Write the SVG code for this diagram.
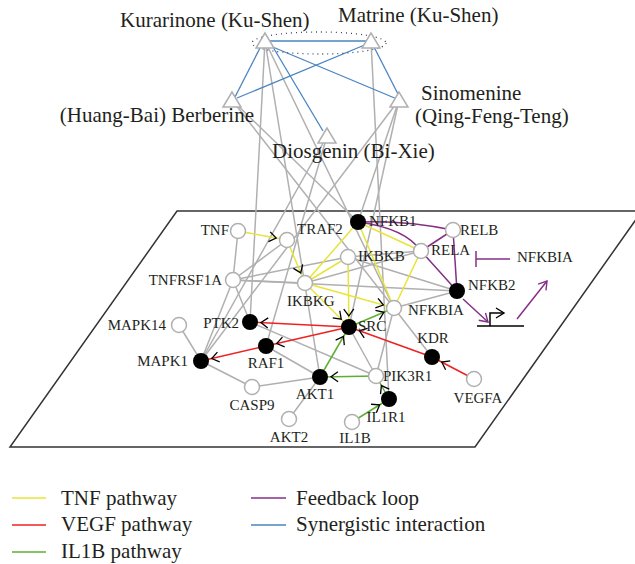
<svg xmlns="http://www.w3.org/2000/svg" width="635" height="564" viewBox="0 0 635 564">
<style>
.g{stroke:#b0b0b0;stroke-width:1.5;fill:none}
.y{stroke:#e8e43a;stroke-width:1.5;fill:none}
.r{stroke:#ee2222;stroke-width:1.5;fill:none}
.gr{stroke:#5cb030;stroke-width:1.5;fill:none}
.p{stroke:#862f86;stroke-width:1.5;fill:none}
.b{stroke:#4a84c4;stroke-width:1.3;fill:none}
.o{fill:#fff;stroke:#b0b0b0;stroke-width:1.5}
.k{fill:#000}
.t{fill:#fff;stroke:#b0b0b0;stroke-width:1.5}
text{font-family:"Liberation Serif",serif;fill:#231f20}
.gl{font-size:15px}
.hl{font-size:21px}
.ar{marker-end:url(#ar)}
</style>
<defs>
<marker id="ar" viewBox="0 0 24 12" markerWidth="24" markerHeight="12" refX="19" refY="6" orient="auto" markerUnits="userSpaceOnUse">
<path d="M1,1 L8,6 L1,11" fill="none" stroke="#000" stroke-width="1.3"/>
</marker>
<marker id="arp" viewBox="0 0 12 12" markerWidth="12" markerHeight="12" refX="9" refY="6" orient="auto" markerUnits="userSpaceOnUse">
<path d="M1,1 L9,6 L1,11" fill="none" stroke="#862f86" stroke-width="1.4"/>
</marker>
<marker id="arb" viewBox="0 0 12 12" markerWidth="12" markerHeight="12" refX="9" refY="6" orient="auto" markerUnits="userSpaceOnUse">
<path d="M1,1 L9,6 L1,11" fill="none" stroke="#000" stroke-width="1.4"/>
</marker>
</defs>
<rect width="635" height="564" fill="#fff"/>
<polygon id="plane" points="177,211 642,211 475,447 10,447" fill="none" stroke="#333" stroke-width="1.5"/>
<g id="connectors">
<!-- herb to gene -->
<line class="g" x1="265" y1="41" x2="250" y2="322"/>
<line class="g" x1="265" y1="41" x2="320" y2="377"/>
<line class="g" x1="265" y1="41" x2="394" y2="308"/>
<line class="g" x1="371" y1="41" x2="389" y2="399"/>
<line class="g" x1="232" y1="100" x2="358" y2="222"/>
<line class="g" x1="232" y1="100" x2="394" y2="308"/>
<line class="g" x1="399" y1="100" x2="358" y2="222"/>
<line class="g" x1="399" y1="100" x2="349" y2="327"/>
<line class="g" x1="399" y1="100" x2="201" y2="361"/>
<line class="g" x1="327" y1="136" x2="201" y2="361"/>
<line class="g" x1="327" y1="136" x2="266" y2="346"/>
<!-- gene to gene grey -->
<line class="g" x1="238" y1="231" x2="233" y2="280"/>
<line class="g" x1="233" y1="280" x2="287" y2="240"/>
<line class="g" x1="233" y1="280" x2="305" y2="283"/>
<line class="g" x1="233" y1="280" x2="348" y2="257"/>
<line class="g" x1="233" y1="280" x2="457" y2="291"/>
<line class="g" x1="233" y1="280" x2="250" y2="322"/>
<line class="g" x1="233" y1="280" x2="201" y2="361"/>
<line class="g" x1="305" y1="283" x2="421" y2="251"/>
<line class="g" x1="348" y1="257" x2="457" y2="291"/>
<line class="g" x1="348" y1="257" x2="421" y2="251"/>
<line class="g" x1="394" y1="308" x2="457" y2="291"/>
<line class="g" x1="394" y1="308" x2="432" y2="357"/>
<line class="g" x1="394" y1="308" x2="376" y2="376"/>
<line class="g" x1="349" y1="327" x2="376" y2="376"/>
<line class="g" x1="250" y1="322" x2="376" y2="376"/>
<line class="g" x1="266" y1="346" x2="320" y2="377"/>
<line class="g" x1="179" y1="325" x2="201" y2="361"/>
<line class="g" x1="201" y1="361" x2="252" y2="387"/>
<line class="g" x1="252" y1="387" x2="320" y2="377"/>
<line class="g" x1="320" y1="377" x2="289" y2="419"/>
<!-- synergistic -->
<line class="b" x1="270" y1="41" x2="367" y2="41"/>
<line class="b" x1="261" y1="46" x2="235" y2="97"/>
<line class="b" x1="367" y1="44" x2="237" y2="98"/>
<line class="b" x1="268" y1="45" x2="397" y2="99"/>
<line class="b" x1="373" y1="45" x2="398" y2="94"/>
<line class="b" x1="270" y1="42" x2="323" y2="131"/>
<!-- TNF pathway -->
<line class="y ar" x1="238" y1="231" x2="287" y2="240"/>
<line class="y ar" x1="287" y1="240" x2="305" y2="283"/>
<line class="y" x1="305" y1="283" x2="358" y2="222"/>
<line class="y" x1="305" y1="283" x2="348" y2="257"/>
<line class="y ar" x1="305" y1="283" x2="349" y2="327"/>
<line class="y ar" x1="348" y1="257" x2="349" y2="327"/>
<line class="y ar" x1="305" y1="283" x2="394" y2="308"/>
<line class="y" x1="358" y1="222" x2="394" y2="308"/>
<line class="y" x1="358" y1="222" x2="421" y2="251"/>
<line class="y" x1="421" y1="251" x2="394" y2="308"/>
<!-- feedback loop -->
<path class="p" d="M358,222 Q405,220 453,230"/>
<path class="p" d="M358,222 Q405,228 421,251 L457,291"/>
<line class="p" x1="421" y1="251" x2="453" y2="230"/>
<line class="p" x1="453" y1="230" x2="457" y2="291"/>
<!-- VEGF pathway -->
<line class="r ar" x1="474" y1="379" x2="432" y2="357"/>
<line class="r ar" x1="432" y1="357" x2="349" y2="327"/>
<line class="r ar" x1="349" y1="327" x2="250" y2="322"/>
<line class="r ar" x1="349" y1="327" x2="266" y2="346"/>
<line class="r ar" x1="266" y1="346" x2="201" y2="361"/>
<!-- IL1B pathway -->
<line class="gr ar" x1="352" y1="422" x2="389" y2="399"/>
<line class="gr ar" x1="389" y1="399" x2="376" y2="376"/>
<line class="gr ar" x1="376" y1="376" x2="320" y2="377"/>
<line class="gr ar" x1="320" y1="377" x2="349" y2="327"/>
<line class="gr ar" x1="349" y1="327" x2="394" y2="308"/>
<!-- inset feedback -->
<line class="p" x1="463" y1="299" x2="488" y2="322" marker-end="url(#arp)"/>
<line class="p" x1="517" y1="319" x2="547" y2="281" marker-end="url(#arp)"/>
<line class="p" x1="476" y1="259" x2="510" y2="259"/>
<line class="p" x1="476" y1="251" x2="476" y2="267"/>
<line x1="477" y1="326" x2="524" y2="326" stroke="#000" stroke-width="1.5"/>
<path d="M490,326 L490,313 L504,313" fill="none" stroke="#000" stroke-width="1.5" marker-end="url(#arb)"/>
</g>
<ellipse cx="319" cy="43" rx="67" ry="11" fill="none" stroke="#3a4560" stroke-width="1.3" stroke-dasharray="1 4"/>
<g id="Kurarinone"><polygon class="t" points="265,33 256,48 274,48"/><text class="hl" x="120" y="27">Kurarinone (Ku-Shen)</text></g>
<g id="Matrine"><polygon class="t" points="371,33 362,48 380,48"/><text class="hl" x="338" y="22">Matrine (Ku-Shen)</text></g>
<g id="Berberine"><polygon class="t" points="232,92 223,107 241,107"/><text class="hl" x="254" y="122" text-anchor="end">(Huang-Bai) Berberine</text></g>
<g id="Sinomenine"><polygon class="t" points="399,92 390,107 408,107"/><text class="hl" x="421" y="100">Sinomenine</text><text class="hl" x="415" y="123">(Qing-Feng-Teng)</text></g>
<g id="Diosgenin"><polygon class="t" points="327,128 318,143 336,143"/><text class="hl" x="272" y="158">Diosgenin (Bi-Xie)</text></g>
<g id="TNF"><circle class="o" cx="238" cy="231" r="7.5"/><text class="gl" x="229" y="235" text-anchor="end">TNF</text></g>
<g id="TRAF2"><circle class="o" cx="287" cy="240" r="7.5"/><text class="gl" x="297" y="234">TRAF2</text></g>
<g id="TNFRSF1A"><circle class="o" cx="233" cy="280" r="7.5"/><text class="gl" x="222" y="285" text-anchor="end">TNFRSF1A</text></g>
<g id="IKBKG"><circle class="o" cx="305" cy="283" r="7.5"/><text class="gl" x="287" y="306">IKBKG</text></g>
<g id="IKBKB"><circle class="o" cx="348" cy="257" r="7.5"/><text class="gl" x="358" y="261">IKBKB</text></g>
<g id="NFKB1"><circle class="k" cx="358" cy="222" r="8"/><text class="gl" x="369" y="226">NFKB1</text></g>
<g id="RELB"><circle class="o" cx="453" cy="230" r="7.5"/><text class="gl" x="460" y="235">RELB</text></g>
<g id="RELA"><circle class="o" cx="421" cy="251" r="7.5"/><text class="gl" x="431" y="255">RELA</text></g>
<g id="NFKB2"><circle class="k" cx="457" cy="291" r="8"/><text class="gl" x="468" y="290">NFKB2</text></g>
<g id="NFKBIA"><circle class="o" cx="394" cy="308" r="7.5"/><text class="gl" x="408" y="315">NFKBIA</text></g>
<g id="NFKBIA-inset"><text class="gl" x="517" y="262">NFKBIA</text></g>
<g id="SRC"><circle class="k" cx="349" cy="327" r="8"/><text class="gl" x="358" y="331">SRC</text></g>
<g id="PTK2"><circle class="k" cx="250" cy="322" r="8"/><text class="gl" x="239" y="328" text-anchor="end">PTK2</text></g>
<g id="RAF1"><circle class="k" cx="266" cy="346" r="8"/><text class="gl" x="266" y="368" text-anchor="middle">RAF1</text></g>
<g id="MAPK14"><circle class="o" cx="179" cy="325" r="7.5"/><text class="gl" x="166" y="330" text-anchor="end">MAPK14</text></g>
<g id="MAPK1"><circle class="k" cx="201" cy="361" r="8"/><text class="gl" x="188" y="366" text-anchor="end">MAPK1</text></g>
<g id="CASP9"><circle class="o" cx="252" cy="387" r="7.5"/><text class="gl" x="252" y="410" text-anchor="middle">CASP9</text></g>
<g id="AKT1"><circle class="k" cx="320" cy="377" r="8"/><text class="gl" x="315" y="399" text-anchor="middle">AKT1</text></g>
<g id="AKT2"><circle class="o" cx="289" cy="419" r="7.5"/><text class="gl" x="289" y="442" text-anchor="middle">AKT2</text></g>
<g id="PIK3R1"><circle class="o" cx="376" cy="376" r="7.5"/><text class="gl" x="383" y="381">PIK3R1</text></g>
<g id="IL1R1"><circle class="k" cx="389" cy="399" r="8"/><text class="gl" x="386" y="422" text-anchor="middle">IL1R1</text></g>
<g id="IL1B"><circle class="o" cx="352" cy="422" r="7.5"/><text class="gl" x="355" y="443" text-anchor="middle">IL1B</text></g>
<g id="KDR"><circle class="k" cx="432" cy="357" r="8"/><text class="gl" x="433" y="343" text-anchor="middle">KDR</text></g>
<g id="VEGFA"><circle class="o" cx="474" cy="379" r="7.5"/><text class="gl" x="478" y="403" text-anchor="middle">VEGFA</text></g>
<g id="legend">
<line class="y" x1="12" y1="498" x2="46" y2="498"/><text class="hl" x="61" y="505">TNF pathway</text>
<line class="r" x1="12" y1="525" x2="46" y2="525"/><text class="hl" x="61" y="531">VEGF pathway</text>
<line class="gr" x1="12" y1="552" x2="46" y2="552"/><text class="hl" x="61" y="558">IL1B pathway</text>
<line class="p" x1="251" y1="498" x2="286" y2="498"/><text class="hl" x="296" y="505">Feedback loop</text>
<line class="b" x1="251" y1="525" x2="286" y2="525"/><text class="hl" x="296" y="531">Synergistic interaction</text>
</g>
</svg>
